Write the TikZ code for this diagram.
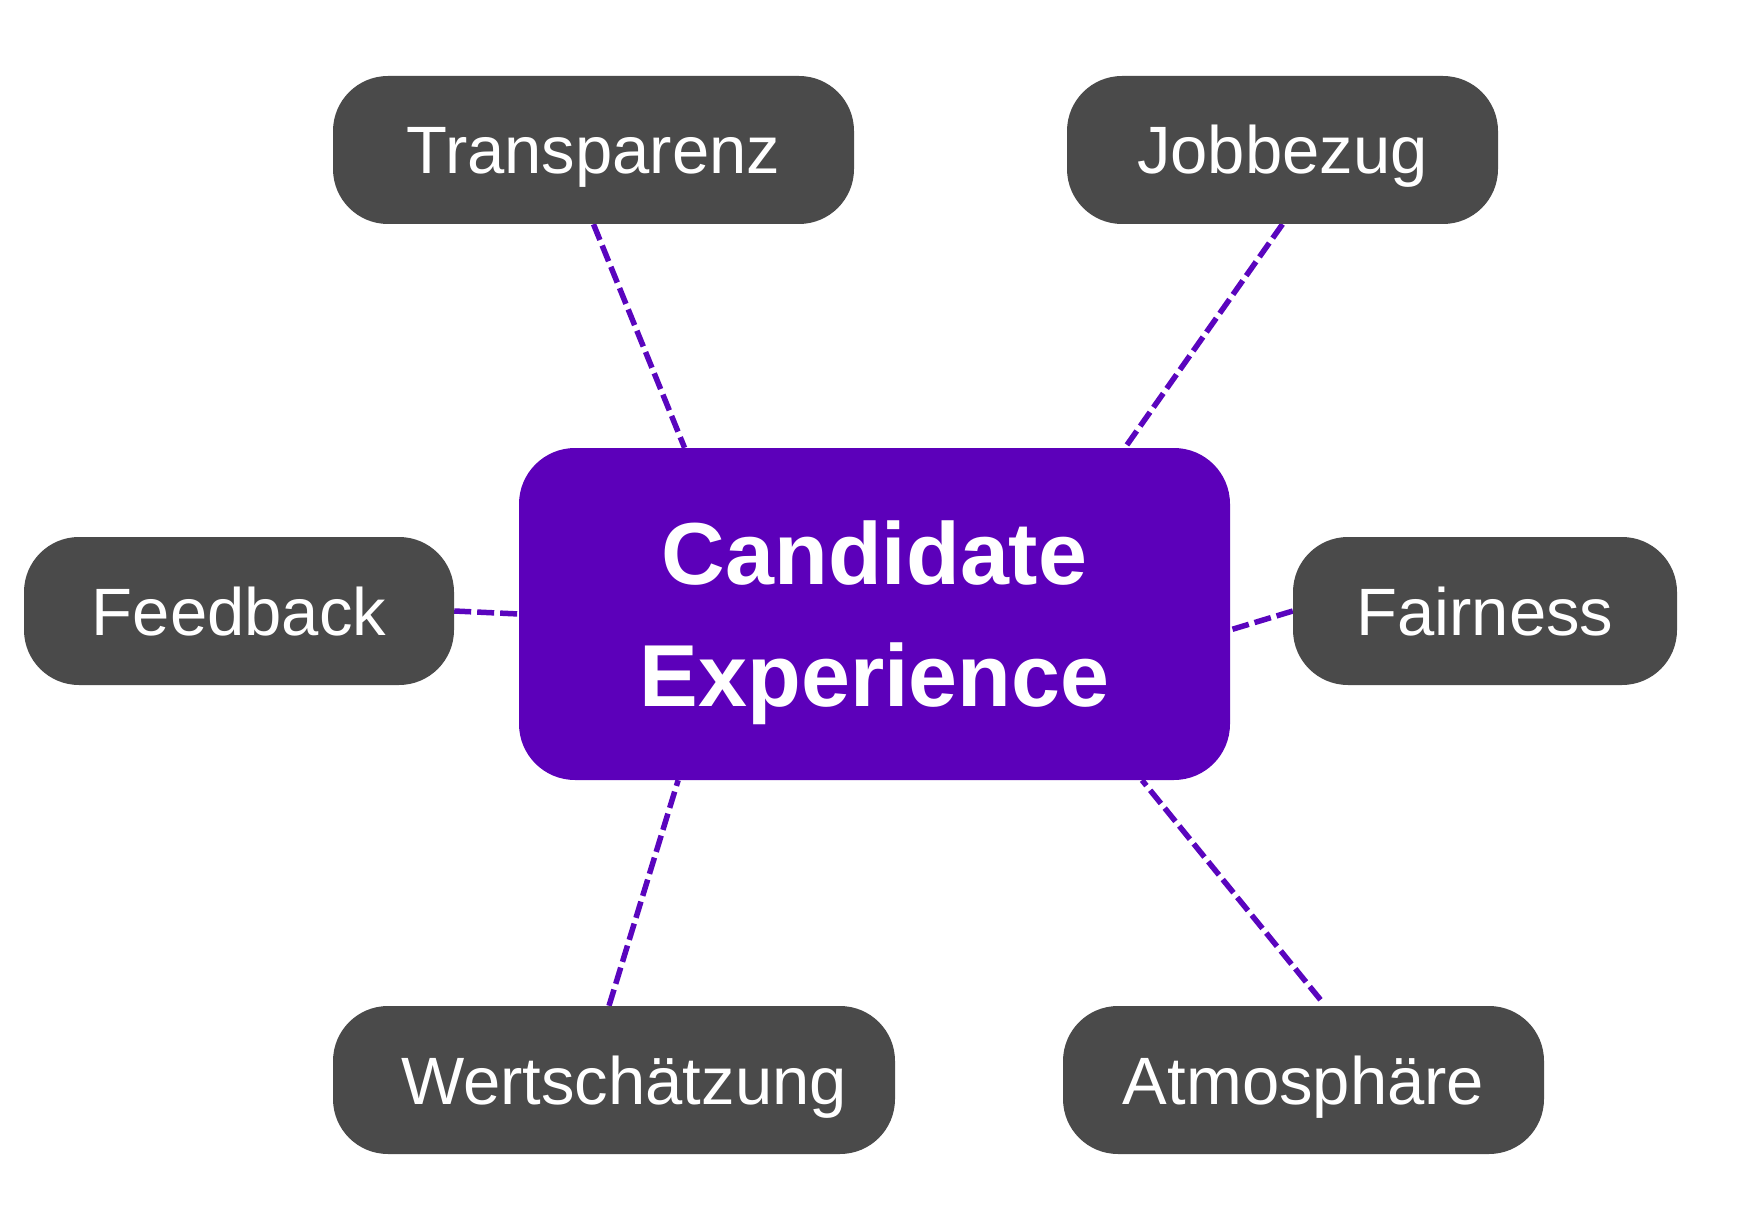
\documentclass[tikz,border=0pt]{standalone}
\usepackage{fontspec}
\setmainfont{Liberation Sans}
\usetikzlibrary{calc,backgrounds}
\definecolor{boxgray}{HTML}{4A4A4A}
\definecolor{cepurple}{HTML}{5C00BA}
\definecolor{linepurple}{HTML}{5A05BE}
\tikzset{
  satbox/.style={rounded corners=55pt, fill=boxgray, text=white, minimum height=148pt,
    inner sep=0pt, font=\fontsize{67}{80}\selectfont, text height=48pt, text depth=0pt},
  corebox/.style={rounded corners=56pt, fill=cepurple, text=white, minimum width=711pt,
    minimum height=332pt, inner sep=0pt, align=center,
    font=\fontsize{88}{122}\selectfont\bfseries, text depth=0pt},
  conn/.style={draw=linepurple, line width=5.5pt, dash pattern=on 17pt off 6pt}
}
\begin{document}
\begin{tikzpicture}[x=1pt,y=-1pt]
\useasboundingbox (0,0) rectangle (1758,1230);
\node[corebox] (c) at (874.5,614) {Candidate\\Experience};
\node[satbox, minimum width=521pt] (t) at (593.5,150) {Transparenz};
\node[satbox, minimum width=431pt] (j) at (1282.5,150) {Jobbezug};
\node[satbox, minimum width=430pt] (f) at (239,611) {Feedback};
\node[satbox, minimum width=384pt] (fa) at (1485,611) {Fairness};
\node[satbox, minimum width=562pt] (w) at (614,1080) {\hspace*{20pt}Wertschätzung};
\node[satbox, minimum width=481pt] (a) at (1303.5,1080) {Atmosphäre};
\begin{scope}[on background layer]
\draw[conn] (t.south) -- ($(c.north west)!0.233!(c.north east)$);
\draw[conn] (j.south) -- ($(c.north west)!0.852!(c.north east)$);
\draw[conn] (f.east) -- (c.west);
\draw[conn] (fa.west) -- ($(c.north east)!0.548!(c.south east)$);
\draw[conn] ($(w.north)+(-5,0)$) -- ($(c.south west)!0.224!(c.south east)$);
\draw[conn] ($(a.north)+(17,-6)$) -- ($(c.south west)!0.876!(c.south east)$);
\end{scope}
\end{tikzpicture}
\end{document}
